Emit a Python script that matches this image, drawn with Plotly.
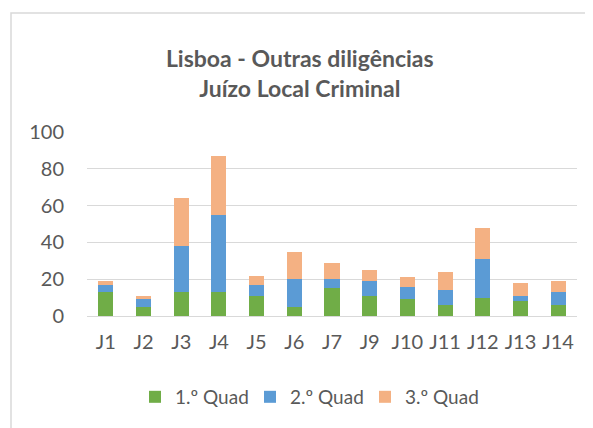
import plotly.graph_objects as go

categories = ["J1", "J2", "J3", "J4", "J5", "J6", "J7", "J9", "J10", "J11", "J12", "J13", "J14"]
q1 = [13, 5, 13, 13, 11, 5, 15, 11, 9, 6, 10, 8, 6]
q2 = [4, 4, 25, 42, 6, 15, 5, 8, 7, 8, 21, 3, 7]
q3 = [2, 2, 26, 32, 5, 15, 9, 6, 5, 10, 17, 7, 6]
series_names = ["1.º Quad", "2.º Quad", "3.º Quad"]
colors = ["#70ad47", "#5b9bd5", "#f4b183"]
y_ticks = [0, 20, 40, 60, 80, 100]

FONT = "Lato, 'Open Sans', sans-serif"
TXT = "#595959"

# page body has an 8px default margin; layout is offset accordingly
PL, PT, PW, PH = 79, 124, 490, 184

fig = go.Figure()
for name, vals, c in zip(series_names, [q1, q2, q3], colors):
    fig.add_trace(go.Bar(x=categories, y=vals, name=name, marker=dict(color=c, line=dict(width=0))))

fig.update_layout(
    barmode="stack",
    bargap=0.6,
    width=593, height=428,
    margin=dict(l=PL, r=593 - PL - PW, t=PT, b=428 - PT - PH, autoexpand=False),
    paper_bgcolor="white", plot_bgcolor="white",
    font=dict(family=FONT, color=TXT),
    title=dict(
        text="<b>Lisboa - Outras diligências<br>Juízo Local Criminal</b>",
        x=0.492, xanchor="center", y=0.862, yanchor="middle",
        font=dict(size=23, color=TXT, family=FONT),
    ),
    xaxis=dict(
        showgrid=False, showline=True, linecolor="#d9d9d9", linewidth=1,
        tickfont=dict(size=20, color=TXT), ticks="", ticklabelstandoff=8,
        automargin=False,
    ),
    yaxis=dict(
        range=[0, 100], tickvals=y_ticks, showgrid=True, gridcolor="#d9d9d9", gridwidth=1,
        zeroline=False, showline=False, tickfont=dict(size=20, color=TXT), ticks="",
        ticklabelstandoff=22, automargin=False,
    ),
    legend=dict(
        orientation="h", x=0.098, xanchor="left", y=-0.44, yanchor="middle",
        font=dict(size=19, color=TXT), traceorder="normal",
        itemwidth=30, entrywidth=70, entrywidthmode="pixels",
    ),
    shapes=[dict(type="rect", xref="paper", yref="paper",
                 x0=(3 - PL) / PW, x1=(600 - PL) / PW,
                 y0=-(440 - PT - PH) / PH, y1=(PT + PH - 5) / PH,
                 line=dict(color="#d9d9d9", width=1.5), layer="below")],
)

fig.write_html("out.html")
